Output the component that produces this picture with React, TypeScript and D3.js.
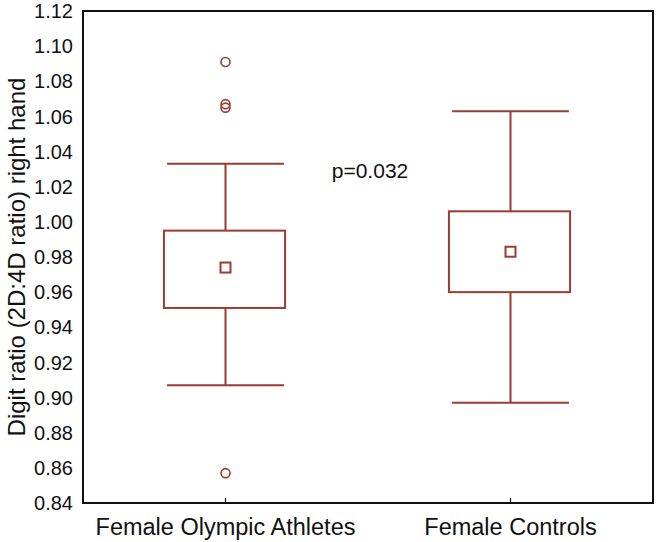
import React, { useRef, useEffect } from "react";
import * as d3 from "d3";

const groups = ["Female Olympic Athletes", "Female Controls"];
const whiskerHigh = [1.033, 1.063];
const q3 = [0.995, 1.006];
const means = [0.974, 0.983];
const q1 = [0.951, 0.96];
const whiskerLow = [0.907, 0.897];
const outliers = [
  [1.091, 1.067, 1.065, 0.857],
  [],
];
const yTicks = [0.84, 0.86, 0.88, 0.9, 0.92, 0.94, 0.96, 0.98, 1.0, 1.02, 1.04, 1.06, 1.08, 1.1, 1.12];
const pLabel = "p=0.032";
const pLabelY = 1.025;

const W = 656;
const H = 542;
const margin = { top: 11, right: 3, bottom: 39, left: 83 };
const boxColor = "#9c3b30";

export default function App() {
  const svgRef = useRef<SVGSVGElement | null>(null);

  useEffect(() => {
    const svg = d3.select(svgRef.current);
    svg.selectAll("*").remove();
    const width = W - margin.left - margin.right;
    const height = H - margin.top - margin.bottom;
    const g = svg.append("g").attr("transform", `translate(${margin.left},${margin.top})`);

    const x = d3.scalePoint<string>().domain(groups).range([0, width]).padding(0.5);
    const y = d3.scaleLinear().domain([0.84, 1.12]).range([height, 0]);
    const step = x.step();
    const boxW = step * 0.425;
    const capW = step * 0.205;
    const font = "Arial, 'Liberation Sans', sans-serif";

    // frame
    g.append("rect").attr("x", 0).attr("y", 0).attr("width", width).attr("height", height)
      .attr("fill", "none").attr("stroke", "#111").attr("stroke-width", 2);

    // y tick labels
    g.append("g").selectAll("text").data(yTicks).join("text")
      .attr("x", -10).attr("y", d => y(d)).attr("dy", "0.36em")
      .attr("text-anchor", "end").attr("font-family", font).attr("font-size", 20).attr("fill", "#111")
      .text(d => d3.format(".2f")(d));

    // x ticks (inward)
    g.append("g").selectAll("line").data(groups).join("line")
      .attr("x1", d => x(d)!).attr("x2", d => x(d)!).attr("y1", height).attr("y2", height - 5)
      .attr("stroke", "#111").attr("stroke-width", 1.2);
    g.append("g").selectAll("text").data(groups).join("text")
      .attr("x", d => x(d)!).attr("y", height + 32)
      .attr("text-anchor", "middle").attr("font-family", font).attr("font-size", 23.5).attr("fill", "#111")
      .text(d => d);

    // y axis label
    g.append("text")
      .attr("transform", `translate(${-58},${height / 2}) rotate(-90)`)
      .attr("text-anchor", "middle").attr("font-family", font).attr("font-size", 24).attr("fill", "#111")
      .text("Digit ratio (2D:4D ratio) right hand");

    const boxes = g.append("g").selectAll("g").data(groups).join("g")
      .attr("transform", d => `translate(${x(d)},0)`);

    boxes.each(function (_d, i) {
      const b = d3.select(this);
      const st = (s: d3.Selection<any, any, any, any>) => s.attr("stroke", boxColor).attr("stroke-width", 2).attr("fill", "none");
      st(b.append("line").attr("x1", 0).attr("x2", 0).attr("y1", y(whiskerHigh[i])).attr("y2", y(q3[i])));
      st(b.append("line").attr("x1", 0).attr("x2", 0).attr("y1", y(q1[i])).attr("y2", y(whiskerLow[i])));
      st(b.append("line").attr("x1", -capW).attr("x2", capW).attr("y1", y(whiskerHigh[i])).attr("y2", y(whiskerHigh[i])));
      st(b.append("line").attr("x1", -capW).attr("x2", capW).attr("y1", y(whiskerLow[i])).attr("y2", y(whiskerLow[i])));
      st(b.append("rect").attr("x", -boxW / 2 - 1).attr("width", boxW).attr("y", y(q3[i])).attr("height", y(q1[i]) - y(q3[i])));
      st(b.append("rect").attr("x", -5).attr("width", 10).attr("y", y(means[i]) - 5).attr("height", 10));
      b.selectAll("circle").data(outliers[i]).join("circle")
        .attr("cx", 0).attr("cy", d => y(d)).attr("r", 4.5)
        .attr("stroke", boxColor).attr("stroke-width", 1.6).attr("fill", "none");
    });

    g.append("text")
      .attr("x", (x(groups[0])! + x(groups[1])!) / 2 + 2).attr("y", y(pLabelY))
      .attr("text-anchor", "middle").attr("font-family", font).attr("font-size", 21).attr("fill", "#111")
      .text(pLabel);
  }, []);

  return (
    <div style={{ position: "absolute", left: 0, top: 0 }}>
      <svg ref={svgRef} width={W} height={H} style={{ display: "block", background: "#fff" }} />
    </div>
  );
}
